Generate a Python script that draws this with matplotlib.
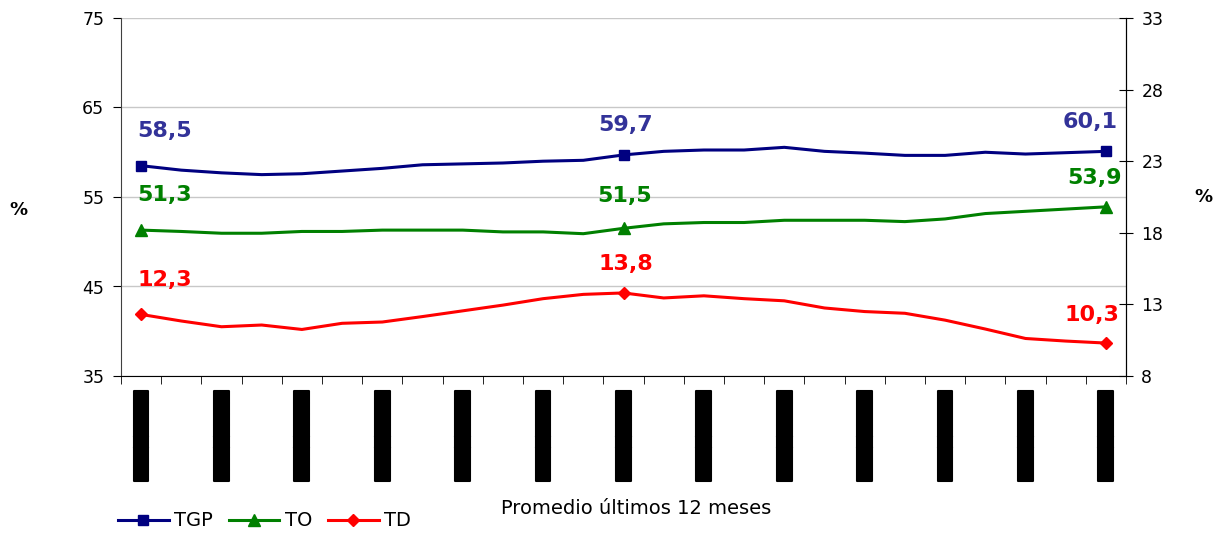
import matplotlib
matplotlib.use("Agg")
import matplotlib.pyplot as plt
import matplotlib.patheffects as pe
import numpy as np

# ---- data ----
tgp = [58.5, 58.0, 57.7, 57.5, 57.6, 57.9, 58.2, 58.6, 58.7, 58.8, 59.0, 59.1, 59.7,
       60.1, 60.25, 60.25, 60.55, 60.1, 59.9, 59.65, 59.65, 60.0, 59.8, 59.95, 60.1]
to = [51.3, 51.15, 50.95, 50.95, 51.15, 51.15, 51.3, 51.3, 51.3, 51.1, 51.1, 50.9, 51.5,
      52.0, 52.15, 52.15, 52.4, 52.4, 52.4, 52.25, 52.55, 53.15, 53.4, 53.65, 53.9]
td = [12.3, 11.84, 11.44, 11.56, 11.25, 11.68, 11.77, 12.15, 12.55, 12.95, 13.4, 13.7, 13.8,
      13.45, 13.6, 13.4, 13.25, 12.75, 12.5, 12.38, 11.9, 11.28, 10.62, 10.44, 10.3]
labelled_idx = [0, 12, 24]
tgp_labels = ["58,5", "59,7", "60,1"]
to_labels = ["51,3", "51,5", "53,9"]
td_labels = ["12,3", "13,8", "10,3"]
# category labels (unreadable in source: rendered as solid blocks)
cat_labels = ["\u2588" * 8] * 13
left_ticks = [35, 45, 55, 65, 75]
right_ticks = [8, 13, 18, 23, 28, 33]

W, H = 1223, 534
fig = plt.figure(figsize=(W / 100, H / 100), dpi=100)
ax = fig.add_axes([121 / W, 1 - 376 / H, (1126 - 121) / W, 358 / H])
ax2 = ax.twinx()

x = np.arange(len(tgp))
c_tgp, c_to, c_td = "#000080", "#008000", "#FF0000"
ax.plot(x, tgp, color=c_tgp, lw=2.2, marker="s", ms=7, markevery=labelled_idx, label="TGP", zorder=3)
ax.plot(x, to, color=c_to, lw=2.2, marker="^", ms=9, markevery=labelled_idx, label="TO", zorder=3)
ax2.plot(x, td, color=c_td, lw=2.2, marker="D", ms=6.5, markevery=labelled_idx, label="TD", zorder=3)

ax.set_xlim(-0.5, len(tgp) - 0.5)
ax.set_ylim(35, 75)
ax2.set_ylim(8, 33)
ax.set_yticks(left_ticks)
ax2.set_yticks(right_ticks)
ax.yaxis.grid(True, color="#c8c8c8", lw=1)
ax.set_axisbelow(True)

for a in (ax, ax2):
    a.spines["top"].set_visible(False)
ax.spines["left"].set_color("#404040")
ax2.spines["left"].set_visible(False)
ax2.spines["bottom"].set_visible(False)

ax.tick_params(axis="y", direction="out", length=6, labelsize=12.5, pad=6)
ax2.tick_params(axis="y", direction="inout", length=10, labelsize=12.5, pad=6)

# x ticks: boundaries as minor ticks, labels every other category
ax.set_xticks(np.arange(-0.5, len(tgp), 1.0), minor=True)
ax.set_xticks(x[::2])
ax.set_xticklabels(cat_labels, rotation=90, fontsize=10.5, va="top")
for lab in ax.get_xticklabels():
    lab.set_path_effects([pe.withStroke(linewidth=1.5, foreground="black")])
ax.tick_params(axis="x", which="major", length=0, pad=11)
ax.tick_params(axis="x", which="minor", direction="out", length=6)

def add_labels(axis, vals, texts, color, offsets):
    for i, t, off in zip(labelled_idx, texts, offsets):
        axis.annotate(t, (i, vals[i]), xytext=off, textcoords="offset pixels",
                      ha="center", va="center", fontsize=16, fontweight="bold", color=color)

add_labels(ax, tgp, tgp_labels, "#333399", [(23, 35), (2, 30), (-16, 29)])
add_labels(ax, to, to_labels, c_to, [(23, 35), (1, 32), (-11, 29)])
add_labels(ax2, td, td_labels, c_td, [(24, 34), (2, 29), (-14, 28)])

fig.text(18 / W, 1 - 210 / H, "%", fontsize=13, fontweight="bold", ha="center", va="center")
fig.text(1203 / W, 1 - 197 / H, "%", fontsize=13, fontweight="bold", ha="center", va="center")
fig.text(636 / W, 1 - 508 / H, "Promedio últimos 12 meses", fontsize=14, ha="center", va="center")

h1, l1 = ax.get_legend_handles_labels()
h2, l2 = ax2.get_legend_handles_labels()
fig.legend(h1 + h2, l1 + l2, loc="center left", bbox_to_anchor=(118 / W, 1 - 521 / H),
           ncol=3, frameon=False, fontsize=14, handlelength=2.6, handletextpad=0.3,
           columnspacing=0.8, borderpad=0, borderaxespad=0)

fig.savefig("out.png", dpi=100)
